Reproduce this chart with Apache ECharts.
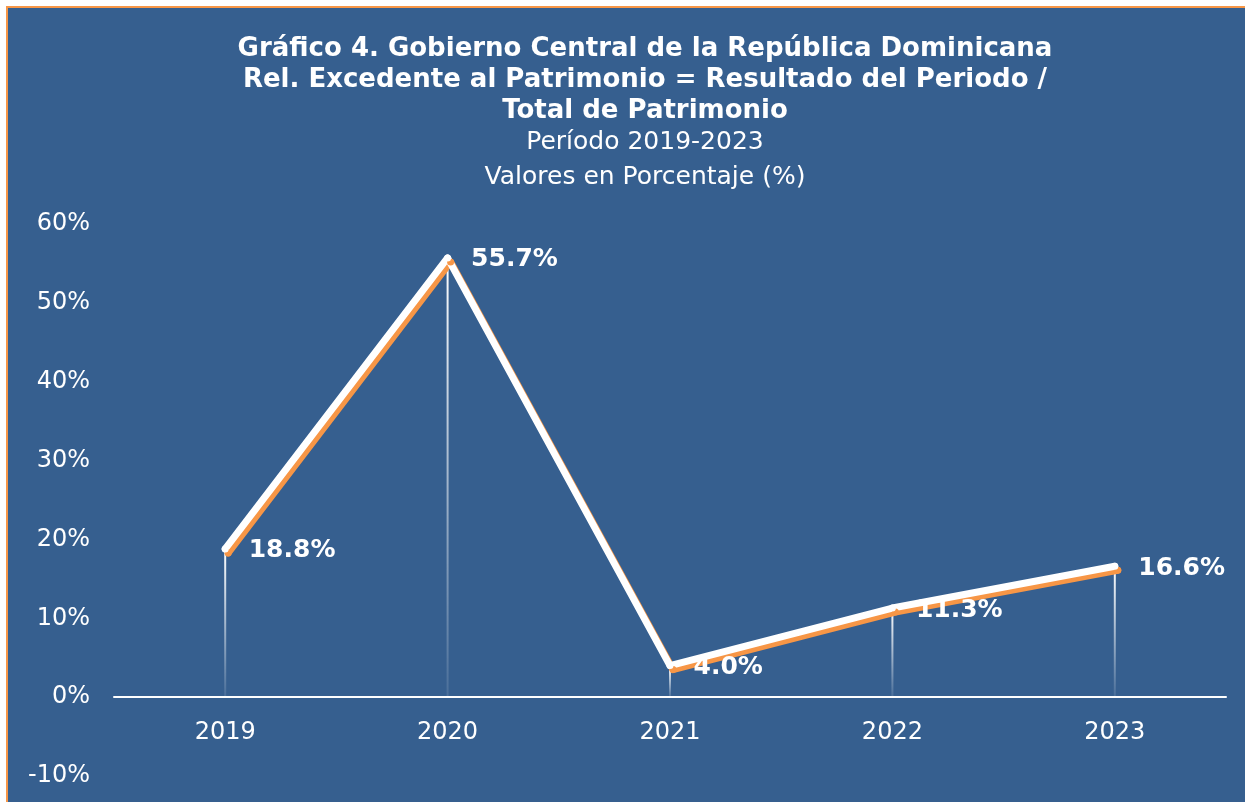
<!DOCTYPE html>
<html>
<head>
<meta charset="utf-8">
<script src="https://cdn.jsdelivr.net/npm/echarts@6/dist/echarts.min.js"></script>
<style>
  html, body { margin: 0; padding: 0; background: #fff; overflow: hidden; }
  #frame {
    position: absolute; left: 6px; top: 6px; width: 1260px; height: 820px;
    border: 2px solid #F79646; background: #365F8F;
  }
  #chart { position: absolute; left: 0; top: 0; width: 1245px; height: 802px; }
</style>
</head>
<body>
<div id="frame"></div>
<div id="chart"></div>
<script>
  // datos del gráfico
  const years = ['2019', '2020', '2021', '2022', '2023']
  const ratio = [18.8, 55.7, 4.0, 11.3, 16.6]
  const yTicks = { min: -10, max: 60, step: 10 }

  const font = 'DejaVu Sans'
  const chart = echarts.init(document.getElementById('chart'))

  const option = {
    animation: false,
    backgroundColor: 'transparent',
    title: [
      {
        text: 'Gráfico 4. Gobierno Central de la República Dominicana\nRel. Excedente al Patrimonio = Resultado del Periodo /\nTotal de Patrimonio',
        left: 640, top: 29, textAlign: 'center',
        textStyle: { color: '#fff', fontFamily: font, fontWeight: 'bold', fontSize: 26, lineHeight: 31 }
      },
      {
        text: 'Período 2019-2023\nValores en Porcentaje (%)',
        left: 640, top: 120, textAlign: 'center',
        textStyle: { color: '#fff', fontFamily: font, fontWeight: 'normal', fontSize: 25, lineHeight: 35 }
      }
    ],
    grid: { left: 114, right: 19, top: 224, bottom: 26, outerBoundsMode: 'none', containLabel: false },
    xAxis: {
      type: 'category',
      data: years,
      boundaryGap: true,
      axisLine: { onZero: true, lineStyle: { color: '#fff', width: 2 } },
      axisTick: { show: false },
      // las etiquetas quedan abajo del grid, se suben hasta debajo del 0%
      axisLabel: { color: '#fff', fontFamily: font, fontSize: 24, margin: -55 }
    },
    yAxis: {
      type: 'value',
      min: yTicks.min, max: yTicks.max, interval: yTicks.step,
      axisLine: { show: false },
      axisTick: { show: false },
      splitLine: { show: false },
      axisLabel: { color: '#fff', fontFamily: font, fontSize: 24, margin: 24, formatter: '{value}%' }
    },
    series: [
      {
        // líneas verticales hasta el eje
        type: 'bar',
        data: ratio,
        barWidth: 2,
        z: 1,
        silent: true,
        itemStyle: {
          color: new echarts.graphic.LinearGradient(0, 0, 0, 1, [
            { offset: 0, color: 'rgba(255,255,255,1)' },
            { offset: 1, color: 'rgba(255,255,255,0.1)' }
          ])
        }
      },
      {
        type: 'line',
        data: ratio,
        z: 3,
        symbol: 'circle',
        symbolSize: 7,
        itemStyle: {
          color: '#fff',
          shadowColor: '#F79646', shadowBlur: 0, shadowOffsetX: 3, shadowOffsetY: 4
        },
        lineStyle: {
          color: '#fff', width: 7, cap: 'round', join: 'round',
          shadowColor: '#F79646', shadowBlur: 0, shadowOffsetX: 3, shadowOffsetY: 4
        },
        label: {
          show: true,
          position: 'right',
          distance: 20,
          color: '#fff',
          fontFamily: font,
          fontWeight: 'bold',
          fontSize: 25,
          offset: [0, 2],
          formatter: p => p.value.toFixed(1) + '%'
        }
      }
    ]
  }

  chart.setOption(option)
</script>
</body>
</html>
